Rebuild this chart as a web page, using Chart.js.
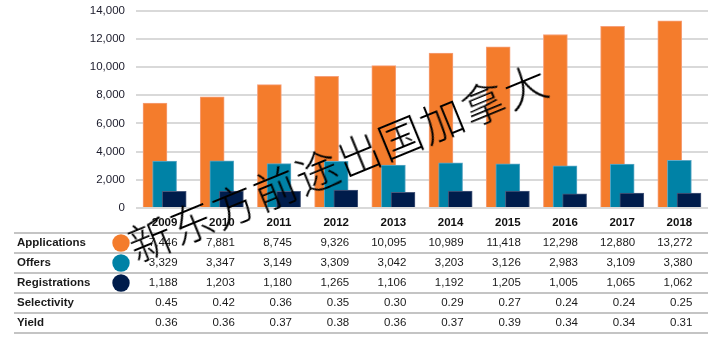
<!DOCTYPE html>
<html>
<head>
<meta charset="utf-8">
<script src="https://cdn.jsdelivr.net/npm/chart.js@4/dist/chart.umd.min.js"></script>
<style>
  html, body { margin: 0; padding: 0; background: #fff; }
  #wrap { position: relative; width: 722px; height: 344px; overflow: hidden; }
  #wm {
    position: absolute; left: 338px; top: 161px;
    transform: translate(-50%, -50%) rotate(-22.3deg);
    font-family: "Noto Sans CJK SC", sans-serif; font-weight: 300;
    font-size: 43px; letter-spacing: 2px; color: #000; white-space: nowrap;
    pointer-events: none; line-height: 1;
  }
</style>
</head>
<body>
<div id="wrap">
  <canvas id="c" width="722" height="344"></canvas>
  <div id="wm">新东方前途出国加拿大</div>
</div>
<script>
const years = ['2009','2010','2011','2012','2013','2014','2015','2016','2017','2018'];
const applications = [7446, 7881, 8745, 9326, 10095, 10989, 11418, 12298, 12880, 13272];
const offers = [3329, 3347, 3149, 3309, 3042, 3203, 3126, 2983, 3109, 3380];
const registrations = [1188, 1203, 1180, 1265, 1106, 1192, 1205, 1005, 1065, 1062];
const selectivity = ['0.45','0.42','0.36','0.35','0.30','0.29','0.27','0.24','0.24','0.25'];
const yieldVals = ['0.36','0.36','0.37','0.38','0.36','0.37','0.39','0.34','0.34','0.31'];
const yTicks = [0, 2000, 4000, 6000, 8000, 10000, 12000, 14000];

const COLORS = { app: '#F47C2C', off: '#0082A6', reg: '#001C4B' };
const FONT = '"Liberation Sans", Arial, sans-serif';
const fmt = v => v.toLocaleString('en-US');

const OFFSET = 0.168;
function pts(arr, shift) { return arr.map((v, i) => ({ x: i + shift, y: v })); }

const rows = [
  { label: 'Applications', color: COLORS.app, vals: applications.map(fmt) },
  { label: 'Offers', color: COLORS.off, vals: offers.map(fmt) },
  { label: 'Registrations', color: COLORS.reg, vals: registrations.map(fmt) },
  { label: 'Selectivity', color: null, vals: selectivity },
  { label: 'Yield', color: null, vals: yieldVals }
];

const tablePlugin = {
  id: 'table',
  afterDraw(chart) {
    const ctx = chart.ctx;
    const xs = chart.scales.x;
    const lineYs = [233, 253, 273, 293, 313, 333];
    ctx.save();
    ctx.strokeStyle = '#c4c4c4';
    ctx.lineWidth = 2;
    lineYs.forEach(y => {
      ctx.beginPath(); ctx.moveTo(14, y); ctx.lineTo(708, y); ctx.stroke();
    });
    ctx.textBaseline = 'middle';
    rows.forEach((r, ri) => {
      const cy = 243 + ri * 20;
      ctx.fillStyle = '#1a1a1a';
      ctx.font = 'bold 11.5px ' + FONT;
      ctx.textAlign = 'left';
      ctx.fillText(r.label, 17, cy);
      if (r.color) {
        ctx.beginPath();
        ctx.arc(121, cy, 8.7, 0, Math.PI * 2);
        ctx.fillStyle = r.color;
        ctx.fill();
      }
      ctx.fillStyle = '#1a1a1a';
      ctx.font = '11.5px ' + FONT;
      ctx.textAlign = 'right';
      r.vals.forEach((v, i) => {
        ctx.fillText(v, xs.getPixelForValue(i) + 13, cy);
      });
    });
    ctx.restore();
  }
};

new Chart(document.getElementById('c'), {
  type: 'bar',
  data: {
    datasets: [
      { label: 'Applications', data: pts(applications, -OFFSET), backgroundColor: COLORS.app, borderColor: '#F6A07A', borderWidth: 1, order: 3 },
      { label: 'Offers', data: pts(offers, 0), backgroundColor: COLORS.off, borderColor: '#5FA9C6', borderWidth: 1, order: 2 },
      { label: 'Registrations', data: pts(registrations, OFFSET), backgroundColor: COLORS.reg, borderColor: '#4A5A7C', borderWidth: 1, order: 1 }
    ]
  },
  options: {
    responsive: false,
    animation: false,
    devicePixelRatio: 1,
    layout: { padding: { left: 0, right: 14, top: 10.5, bottom: 0 } },
    plugins: { legend: { display: false }, tooltip: { enabled: false } },
    datasets: { bar: { grouped: false, barThickness: 24 } },
    scales: {
      x: {
        type: 'linear', min: -0.5, max: 9.5, offset: false,
        grid: { display: false, drawTicks: false },
        border: { display: false },
        afterBuildTicks: s => { s.ticks = years.map((_, i) => ({ value: i })); },
        afterFit: s => { s.height = 136; s.paddingLeft = 0; s.paddingRight = 0; },
        ticks: {
          autoSkip: false, maxRotation: 0, padding: 8,
          color: '#111', font: { family: FONT, size: 11.5, weight: 'bold' },
          callback: v => years[v]
        }
      },
      y: {
        min: 0, max: 14000,
        afterBuildTicks: s => { s.ticks = yTicks.map(v => ({ value: v })); },
        afterFit: s => { s.width = 136; s.paddingTop = 0; s.paddingBottom = 0; },
        grid: { color: '#d9d9d9', lineWidth: 2, drawTicks: false },
        border: { display: false },
        ticks: {
          padding: 11, color: '#1b1b2b',
          font: { family: FONT, size: 11.5 },
          callback: v => fmt(v)
        }
      }
    }
  },
  plugins: [tablePlugin]
});
</script>
</body>
</html>
